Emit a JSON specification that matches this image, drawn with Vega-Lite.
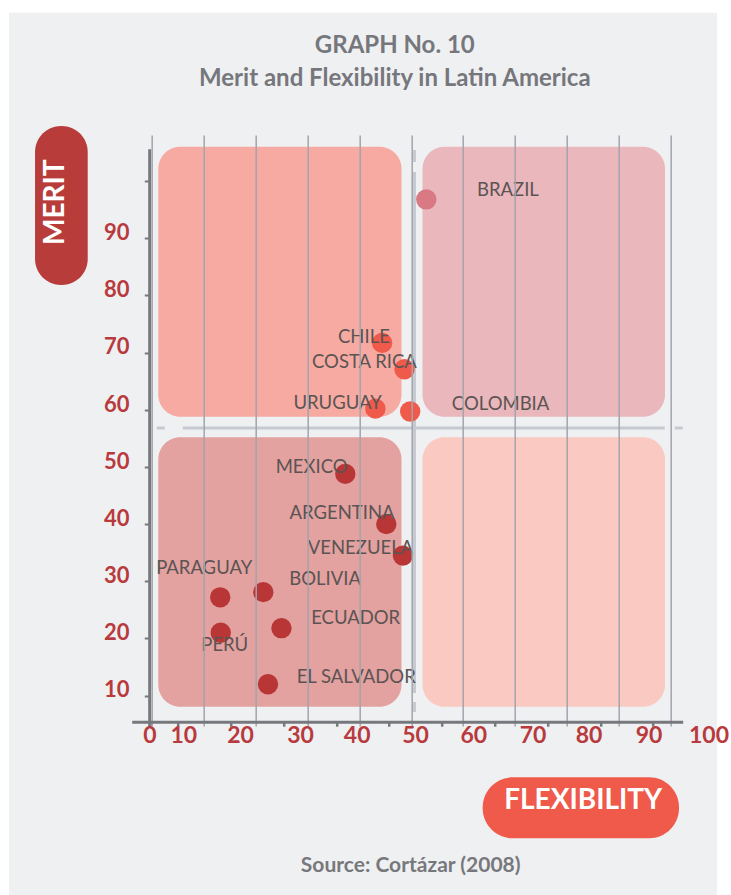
{
  "$schema": "https://vega.github.io/schema/vega-lite/v6.json",
  "width": 551,
  "height": 591,
  "autosize": {"type": "none"},
  "padding": {"left": 131.7, "top": 135, "right": 48.3, "bottom": 169},
  "background": "#ffffff",
  "config": {"view": {"stroke": null}, "font": "Lato"},
  "title": {
    "text": ["GRAPH No. 10", "Merit and Flexibility in Latin America"],
    "anchor": "middle",
    "frame": "group",
    "font": "Lato",
    "fontSize": 24,
    "fontWeight": "bold",
    "color": "#76777c",
    "lineHeight": 33,
    "dx": -12.4,
    "offset": -78
  },
  "datasets": {
    "countries": [
      {"country": "BRAZIL", "flexibility": 52.9, "merit": 96.8, "quadrant": "High merit, high flexibility"},
      {"country": "CHILE", "flexibility": 44.4, "merit": 71.7, "quadrant": "High merit, low flexibility"},
      {"country": "COSTA RICA", "flexibility": 48.7, "merit": 67.1, "quadrant": "High merit, low flexibility"},
      {"country": "URUGUAY", "flexibility": 43.1, "merit": 60.2, "quadrant": "High merit, low flexibility"},
      {"country": "COLOMBIA", "flexibility": 49.8, "merit": 59.7, "quadrant": "High merit, low flexibility"},
      {"country": "MEXICO", "flexibility": 37.3, "merit": 48.8, "quadrant": "Low merit, low flexibility"},
      {"country": "ARGENTINA", "flexibility": 45.2, "merit": 40.0, "quadrant": "Low merit, low flexibility"},
      {"country": "VENEZUELA", "flexibility": 48.4, "merit": 34.5, "quadrant": "Low merit, low flexibility"},
      {"country": "PARAGUAY", "flexibility": 13.2, "merit": 27.2, "quadrant": "Low merit, low flexibility"},
      {"country": "BOLIVIA", "flexibility": 21.5, "merit": 28.1, "quadrant": "Low merit, low flexibility"},
      {"country": "PERÚ", "flexibility": 13.3, "merit": 21.0, "quadrant": "Low merit, low flexibility"},
      {"country": "ECUADOR", "flexibility": 25.0, "merit": 21.8, "quadrant": "Low merit, low flexibility"},
      {"country": "EL SALVADOR", "flexibility": 22.4, "merit": 12.0, "quadrant": "Low merit, low flexibility"}
    ],
    "quadrants": [
      {"quadrant": "High merit, low flexibility", "flex_from": 1.27, "flex_to": 48.13, "merit_from": 58.79, "merit_to": 106.02},
      {"quadrant": "High merit, high flexibility", "flex_from": 52.18, "flex_to": 98.9, "merit_from": 58.79, "merit_to": 106.02},
      {"quadrant": "Low merit, low flexibility", "flex_from": 1.27, "flex_to": 48.13, "merit_from": 8.07, "merit_to": 55.19},
      {"quadrant": "Low merit, high flexibility", "flex_from": 52.18, "flex_to": 98.9, "merit_from": 8.07, "merit_to": 55.19}
    ]
  },
  "layer": [
    {
      "data": {"values": [{}]},
      "mark": {"type": "rect", "color": "#eff0f2"},
      "encoding": {
        "x": {"datum": -27.5, "type": "quantitative", "scale": {"domain": [-3.855, 102.31], "nice": false, "zero": false}, "axis": null},
        "x2": {"datum": 108.92},
        "y": {"datum": 129.46, "type": "quantitative", "scale": {"domain": [4.69, 108.07], "nice": false, "zero": false}},
        "y2": {"datum": -26}
      }
    },
    {
      "data": {"name": "quadrants"},
      "mark": {"type": "rect", "cornerRadius": 22},
      "encoding": {
        "x": {
          "field": "flex_from",
          "type": "quantitative",
          "scale": {"domain": [-3.855, 102.31], "nice": false, "zero": false},
          "axis": {
            "orient": "top",
            "zindex": 1,
            "values": [0, 10, 20, 30, 40, 50, 60, 70, 80, 90, 100],
            "grid": true,
            "gridColor": "#a2a5ac",
            "gridWidth": 1.5,
            "gridOpacity": 1,
            "domain": false,
            "ticks": false,
            "labels": false,
            "title": "Source: Cortázar (2008)",
            "titleFont": "Lato",
            "titleFontSize": 21,
            "titleFontWeight": "bold",
            "titleColor": "#77787c",
            "titleX": 278.5,
            "titleY": 736.7,
            "titleAlign": "center",
            "titleBaseline": "alphabetic"
          }
        },
        "x2": {"field": "flex_to"},
        "y": {"field": "merit_from", "type": "quantitative", "scale": {"domain": [4.69, 108.07], "nice": false, "zero": false}},
        "y2": {"field": "merit_to"},
        "fill": {
          "field": "quadrant",
          "type": "nominal",
          "scale": {
            "domain": ["High merit, high flexibility", "High merit, low flexibility", "Low merit, low flexibility", "Low merit, high flexibility"],
            "range": ["#eab7bc", "#f6aaa2", "#e3a1a0", "#fac9c1"]
          },
          "legend": null
        }
      }
    },
    {
      "data": {"values": [{}]},
      "mark": {"type": "rule", "color": "#c6c9cf", "strokeWidth": 3, "strokeDash": [8, 18, 482, 10, 8]},
      "encoding": {
        "x": {"datum": 0.97, "type": "quantitative", "scale": {"domain": [-3.855, 102.31], "nice": false, "zero": false}, "axis": null},
        "x2": {"datum": 102.37},
        "y": {"datum": 56.82, "type": "quantitative", "scale": {"domain": [4.69, 108.07], "nice": false, "zero": false}}
      }
    },
    {
      "data": {"values": [{}]},
      "mark": {"type": "rule", "color": "#c6c9cf", "strokeWidth": 3, "strokeDash": [12, 10, 521, 9, 10]},
      "encoding": {
        "x": {"datum": 50.63, "type": "quantitative", "scale": {"domain": [-3.855, 102.31], "nice": false, "zero": false}, "axis": null},
        "y": {"datum": 105.45, "type": "quantitative", "scale": {"domain": [4.69, 108.07], "nice": false, "zero": false}},
        "y2": {"datum": 7.14}
      }
    },
    {
      "data": {"values": [{}]},
      "mark": {"type": "rule", "color": "#77787d", "strokeWidth": 3},
      "encoding": {
        "x": {"datum": -0.387, "type": "quantitative", "scale": {"domain": [-3.855, 102.31], "nice": false, "zero": false}, "axis": null},
        "y": {"datum": 105.57, "type": "quantitative", "scale": {"domain": [4.69, 108.07], "nice": false, "zero": false}},
        "y2": {"datum": 4.57}
      }
    },
    {
      "data": {"values": [{}]},
      "mark": {"type": "rect", "color": "#b83c3a", "cornerRadius": 26},
      "encoding": {
        "x": {"datum": -22.48, "type": "quantitative", "scale": {"domain": [-3.855, 102.31], "nice": false, "zero": false}, "axis": null},
        "x2": {"datum": -12.33},
        "y": {"datum": 109.64, "type": "quantitative", "scale": {"domain": [4.69, 108.07], "nice": false, "zero": false}},
        "y2": {"datum": 81.83}
      }
    },
    {
      "data": {"values": [{}]},
      "mark": {"type": "rect", "color": "#ef5a4b", "cornerRadius": 30},
      "encoding": {
        "x": {"datum": 63.77, "type": "quantitative", "scale": {"domain": [-3.855, 102.31], "nice": false, "zero": false}, "axis": null},
        "x2": {"datum": 101.6},
        "y": {"datum": -4.28, "type": "quantitative", "scale": {"domain": [4.69, 108.07], "nice": false, "zero": false}},
        "y2": {"datum": -14.95}
      }
    },
    {
      "data": {"name": "countries"},
      "mark": {"type": "circle", "size": 415, "opacity": 1},
      "encoding": {
        "x": {
          "field": "flexibility",
          "type": "quantitative",
          "scale": {"domain": [-3.855, 102.31], "nice": false, "zero": false},
          "axis": {
            "orient": "bottom",
            "offset": -4.3,
            "zindex": 1,
            "values": [-0.464, 5.065, 15.24, 25.41, 35.57, 45.74, 55.91, 66.09, 76.26, 86.43, 96.59],
            "labelExpr": "'' + (round(datum.index * 10) * 10)",
            "grid": false,
            "domain": true,
            "domainColor": "#77787d",
            "domainWidth": 3,
            "ticks": true,
            "tickSize": 4.5,
            "tickWidth": 2.5,
            "tickColor": "#77787d",
            "labelFont": "Lato",
            "labelFontSize": 23,
            "labelFontWeight": "bold",
            "labelColor": "#b83a3d",
            "labelPadding": -1.3,
            "labelAngle": 0,
            "labelFlush": false,
            "labelOverlap": false,
            "labelBound": false,
            "labelOffset": {
              "condition": [
                {"test": "datum.value < 0", "value": 0},
                {"test": "datum.value < 10", "value": 5.3},
                {"test": "datum.value < 20", "value": 9.2},
                {"test": "datum.value < 30", "value": 16.4},
                {"test": "datum.value < 40", "value": 20.4},
                {"test": "datum.value < 50", "value": 25.9},
                {"test": "datum.value < 60", "value": 31.4},
                {"test": "datum.value < 70", "value": 37.8},
                {"test": "datum.value < 80", "value": 41},
                {"test": "datum.value < 90", "value": 48.3}
              ],
              "value": 55.5
            },
            "title": "FLEXIBILITY",
            "titleFont": "Lato",
            "titleFontSize": 28,
            "titleFontWeight": "bold",
            "titleColor": "#ffffff",
            "titleX": 451,
            "titleY": 86.6,
            "titleAlign": "center",
            "titleBaseline": "alphabetic"
          }
        },
        "y": {
          "field": "merit",
          "type": "quantitative",
          "scale": {"domain": [4.69, 108.07], "nice": false, "zero": false},
          "axis": {
            "orient": "left",
            "offset": -17.6,
            "zindex": 1,
            "values": [10, 20, 30, 40, 50, 60, 70, 80, 90, 100],
            "labelExpr": "datum.value >= 100 ? '' : datum.label",
            "grid": false,
            "domain": false,
            "ticks": true,
            "tickSize": 5,
            "tickWidth": 2,
            "tickColor": "#77787d",
            "labelFont": "Lato",
            "labelFontSize": 22,
            "labelFontWeight": "bold",
            "labelColor": "#b83a3d",
            "labelPadding": 15.3,
            "labelBaseline": "alphabetic",
            "labelOffset": 1.3,
            "labelFlush": false,
            "labelOverlap": false,
            "labelBound": false,
            "title": "MERIT",
            "titleFont": "Lato",
            "titleFontSize": 28,
            "titleFontWeight": "bold",
            "titleColor": "#ffffff",
            "titleAngle": -90,
            "titleX": -86,
            "titleY": 66.7,
            "titleAlign": "center",
            "titleBaseline": "alphabetic"
          }
        },
        "color": {
          "field": "quadrant",
          "type": "nominal",
          "scale": {
            "domain": ["High merit, high flexibility", "High merit, low flexibility", "Low merit, low flexibility"],
            "range": ["#d87984", "#ef5a4b", "#b83636"]
          },
          "legend": null
        }
      }
    },
    {
      "data": {"name": "countries"},
      "mark": {
        "type": "text",
        "font": "Lato",
        "fontSize": 18.5,
        "color": "#5b5453",
        "baseline": "alphabetic",
        "align": {"expr": "['left','right','right','right','left','right','right','right','right','left','center','left','left'][indexof(['BRAZIL','CHILE','COSTA RICA','URUGUAY','COLOMBIA','MEXICO','ARGENTINA','VENEZUELA','PARAGUAY','BOLIVIA','PERÚ','ECUADOR','EL SALVADOR'], datum.country)]"},
        "dx": {"expr": "[50.7, 7.7, 12.4, 6.4, 41.7, 2.3, 8.3, 10.3, 32, 26, 4, 29.7, 28.7][indexof(['BRAZIL','CHILE','COSTA RICA','URUGUAY','COLOMBIA','MEXICO','ARGENTINA','VENEZUELA','PARAGUAY','BOLIVIA','PERÚ','ECUADOR','EL SALVADOR'], datum.country)]"},
        "dy": {"expr": "[-3.6, 0.3, -1, 0.6, -2, -0.7, -4.7, -1.7, -23.3, -7.3, 18.3, -4.3, -1.6][indexof(['BRAZIL','CHILE','COSTA RICA','URUGUAY','COLOMBIA','MEXICO','ARGENTINA','VENEZUELA','PARAGUAY','BOLIVIA','PERÚ','ECUADOR','EL SALVADOR'], datum.country)]"}
      },
      "encoding": {
        "x": {"field": "flexibility", "type": "quantitative", "scale": {"domain": [-3.855, 102.31], "nice": false, "zero": false}, "axis": null},
        "y": {"field": "merit", "type": "quantitative", "scale": {"domain": [4.69, 108.07], "nice": false, "zero": false}},
        "text": {"field": "country", "type": "nominal"}
      }
    }
  ]
}
